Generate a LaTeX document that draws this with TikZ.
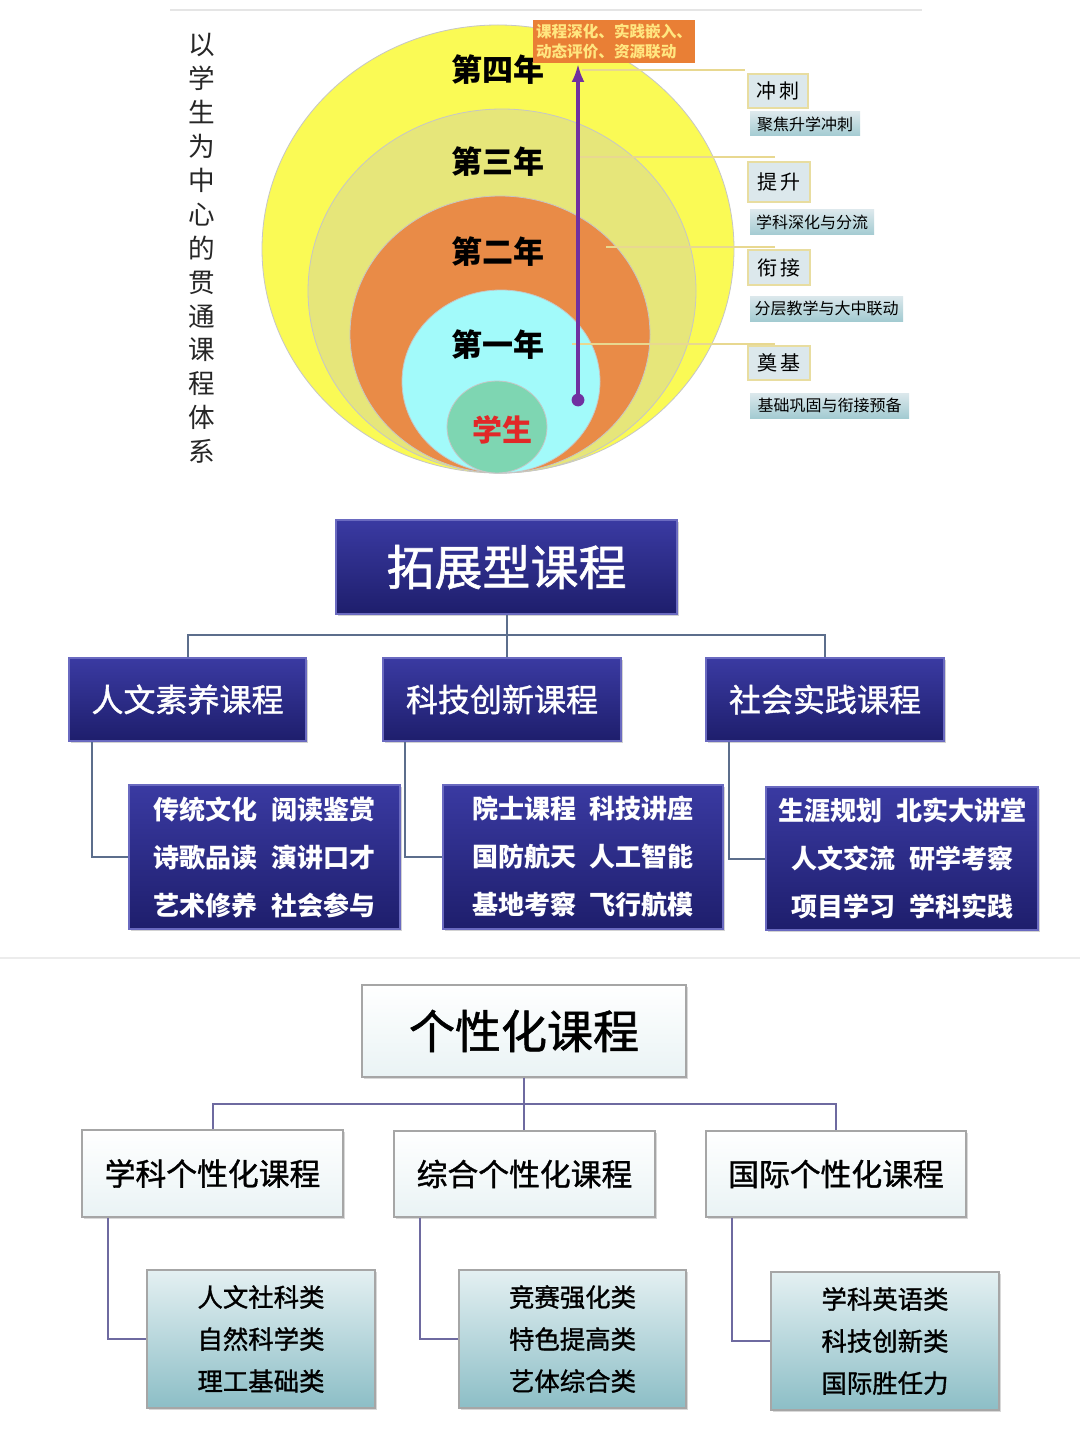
\documentclass[tikz,border=0pt]{standalone}
\usepackage{fontspec}
\setmainfont{Noto Sans CJK SC}
\newfontfamily\medf[FakeBold=1.2]{Noto Sans CJK SC}
\usetikzlibrary{shadows,arrows.meta}
\newcommand\pxu[1]{#1*0.5pt}
\definecolor{yelA}{HTML}{FAFA55}
\definecolor{khaki}{HTML}{E6E67A}
\definecolor{orgA}{HTML}{E98B47}
\definecolor{cyanA}{HTML}{A2FAFA}
\definecolor{grnA}{HTML}{7ED6B2}
\definecolor{purA}{HTML}{7030A0}
\definecolor{boxO}{HTML}{E97F35}
\definecolor{txtO}{HTML}{FFE680}
\definecolor{navyT}{HTML}{3A3AA2}
\definecolor{navyB}{HTML}{1E1E6C}
\definecolor{navyE}{HTML}{6A6AC0}
\definecolor{lineM}{HTML}{5C6E8C}
\definecolor{lineB}{HTML}{6E6AA0}
\definecolor{tealT}{HTML}{E4F0F2}
\definecolor{tealB}{HTML}{8CBEC6}
\definecolor{labF}{HTML}{DCE8EC}
\definecolor{labE}{HTML}{E8DDA0}
\definecolor{thinL}{HTML}{E8D890}
\tikzset{
  navybox/.style={shade, top color=navyT, bottom color=navyB, draw=navyE, line width=1.2pt,
    text=white, drop shadow={shadow xshift=1.2pt, shadow yshift=-1.2pt, opacity=0.35}},
  lightbox/.style={shade, top color=white, bottom color=tealT!80, draw=gray!70, line width=0.6pt,
    text=black, drop shadow={shadow xshift=1.2pt, shadow yshift=-1.2pt, opacity=0.3}},
  tealbox/.style={shade, top color=tealT, bottom color=tealB, draw=gray!70, line width=0.6pt,
    text=black, drop shadow={shadow xshift=1.2pt, shadow yshift=-1.2pt, opacity=0.3}},
  labbox/.style={fill=labF, draw=labE, line width=0.8pt, inner sep=0pt},
  subbox/.style={shade, top color=labF, bottom color=tealB!80, inner sep=0pt},
  midline/.style={draw=lineM, line width=1pt},
  botline/.style={draw=lineB, line width=1pt},
  ell/.style={draw=gray!45, line width=0.4pt},
}
\begin{document}
\begin{tikzpicture}[x=0.5pt,y=-0.5pt]
\useasboundingbox (0,0) rectangle (1080,1439);
\fill[white] (0,0) rectangle (1080,1439);

% ---------- top section ----------
\draw[gray!20, line width=0.6pt] (170,10) -- (922,10);
\node[text=black!85, align=center, font=\fontsize{13.3}{16.95}\selectfont] (vt) at (202,248.5)
  {以\\学\\生\\为\\中\\心\\的\\贯\\通\\课\\程\\体\\系};

\draw[ell, fill=yelA] (498,249) ellipse [x radius=236, y radius=224];
\draw[ell, fill=khaki] (502,291) ellipse [x radius=194, y radius=182];
\draw[ell, fill=orgA] (500,334.5) ellipse [x radius=150, y radius=138.5];
\draw[ell, fill=cyanA] (501,381.5) ellipse [x radius=99, y radius=91.5];
\draw[ell, fill=grnA] (497,427) ellipse [x radius=50, y radius=46];

\node[font=\fontsize{15.5}{18}\selectfont\bfseries] (y4) at (498,70) {第四年};
\node[font=\fontsize{15.5}{18}\selectfont\bfseries] (y3) at (498,162) {第三年};
\node[font=\fontsize{15.5}{18}\selectfont\bfseries] (y2) at (498,252) {第二年};
\node[font=\fontsize{15.5}{18}\selectfont\bfseries] (y1) at (498,345) {第一年};
\node[font=\fontsize{15}{18}\selectfont\bfseries, text={rgb,255:red,225;green,40;blue,40}] (stu) at (502,430) {学生};

% thin guide lines
\coordinate (g4a) at (582,70);  \coordinate (g4b) at (745,70);
\coordinate (g3a) at (578,157); \coordinate (g3b) at (775,157);
\coordinate (g2a) at (606,247); \coordinate (g2b) at (775,247);
\coordinate (g1a) at (572,344); \coordinate (g1b) at (775,344);
\draw[thinL, line width=0.6pt] (g4a) -- (g4b);
\draw[thinL, line width=0.6pt] (g3a) -- (g3b);
\draw[thinL, line width=0.6pt] (g2a) -- (g2b);
\draw[thinL, line width=0.6pt] (g1a) -- (g1b);

% orange box
\node[fill=boxO, minimum width=\pxu{162}, minimum height=\pxu{43}, inner sep=1pt, text=txtO,
  align=left, font=\fontsize{7.8}{10}\selectfont\bfseries] (ob) at (614,41.5)
  {课程深化、实践嵌入、\\动态评价、资源联动};

% arrow
\coordinate (arS) at (578,400);
\coordinate (arE) at (578,64);
\draw[purA, line width=1.6pt, -{Latex[length=9pt,width=6.5pt]}] (arS) -- (arE);
\fill[purA] (arS) circle [radius=3.2pt];

% right labels
\node[labbox, minimum width=\pxu{60}, minimum height=\pxu{34}, font=\fontsize{10}{12}\selectfont] (k1) at (778,91) {冲\,刺};
\node[subbox, minimum width=\pxu{110}, minimum height=\pxu{24}, font=\fontsize{8}{10}\selectfont] (s1) at (805,124) {聚焦升学冲刺};
\node[labbox, minimum width=\pxu{62}, minimum height=\pxu{40}, font=\fontsize{10}{12}\selectfont] (k2) at (779,182) {提\,升};
\node[subbox, minimum width=\pxu{124}, minimum height=\pxu{25}, font=\fontsize{8}{10}\selectfont] (s2) at (812,222.5) {学科深化与分流};
\node[labbox, minimum width=\pxu{62}, minimum height=\pxu{35}, font=\fontsize{10}{12}\selectfont] (k3) at (779,267.5) {衔\,接};
\node[subbox, minimum width=\pxu{153}, minimum height=\pxu{25}, font=\fontsize{8}{10}\selectfont] (s3) at (826.5,308.5) {分层教学与大中联动};
\node[labbox, minimum width=\pxu{62}, minimum height=\pxu{34}, font=\fontsize{10}{12}\selectfont] (k4) at (779,363) {奠\,基};
\node[subbox, minimum width=\pxu{159}, minimum height=\pxu{25}, font=\fontsize{8}{10}\selectfont] (s4) at (829.5,405.5) {基础巩固与衔接预备};

% ---------- middle section ----------
\node[navybox, minimum width=\pxu{341}, minimum height=\pxu{94}, font=\fontsize{24}{28}\selectfont\medf] (t1) at (506.5,567) {拓展型课程};
\node[navybox, minimum width=\pxu{237}, minimum height=\pxu{83}, font=\fontsize{16}{20}\selectfont\medf] (c1) at (187.5,699.5) {人文素养课程};
\node[navybox, minimum width=\pxu{238}, minimum height=\pxu{83}, font=\fontsize{16}{20}\selectfont\medf] (c2) at (502,699.5) {科技创新课程};
\node[navybox, minimum width=\pxu{238}, minimum height=\pxu{83}, font=\fontsize{16}{20}\selectfont\medf] (c3) at (825,699.5) {社会实践课程};

\node[navybox, minimum width=\pxu{271}, minimum height=\pxu{144}, align=center, font=\fontsize{13}{24}\selectfont\bfseries] (l1) at (264.5,857)
  {传统文化\hspace{7pt}阅读鉴赏\\诗歌品读\hspace{7pt}演讲口才\\艺术修养\hspace{7pt}社会参与};
\node[navybox, minimum width=\pxu{280}, minimum height=\pxu{144}, align=center, font=\fontsize{13}{24}\selectfont\bfseries] (l2) at (583,857)
  {院士课程\hspace{7pt}科技讲座\\国防航天\hspace{7pt}人工智能\\基地考察\hspace{7pt}飞行航模};
\node[navybox, minimum width=\pxu{272}, minimum height=\pxu{143}, inner sep=1pt, align=center, font=\fontsize{13}{24}\selectfont\bfseries] (l3) at (902,858.5)
  {生涯规划\hspace{7pt}北实大讲堂\\人文交流\hspace{7pt}研学考察\\项目学习\hspace{7pt}学科实践};

\coordinate (j1) at (506.5,635);
\draw[midline] (t1.south) -- (j1);
\draw[midline] (c1.north) |- (j1) -| (c3.north);
\draw[midline] (j1) -- (j1 |- c2.north);
\draw[midline] ([xshift=\pxu{24}]c1.south west) |- (l1.west);
\draw[midline] ([xshift=\pxu{23}]c2.south west) |- (l2.west);
\draw[midline] ([xshift=\pxu{24}]c3.south west) |- (l3.west);

% separator
\draw[gray!15, line width=0.8pt] (0,958) -- (1080,958);

% ---------- bottom section ----------
\node[lightbox, minimum width=\pxu{324}, minimum height=\pxu{92}, font=\fontsize{23}{28}\selectfont\medf] (t2) at (524,1031) {个性化课程};
\node[lightbox, minimum width=\pxu{261}, minimum height=\pxu{87}, font=\fontsize{15.4}{20}\selectfont\medf] (d1) at (212.5,1173.5) {学科个性化课程};
\node[lightbox, minimum width=\pxu{261}, minimum height=\pxu{86}, font=\fontsize{15.4}{20}\selectfont\medf] (d2) at (524.5,1174) {综合个性化课程};
\node[lightbox, minimum width=\pxu{260}, minimum height=\pxu{86}, font=\fontsize{15.4}{20}\selectfont\medf] (d3) at (836,1174) {国际个性化课程};

\node[tealbox, minimum width=\pxu{228}, minimum height=\pxu{138}, align=center, font=\fontsize{12.7}{21}\selectfont\medf] (m1) at (261,1339)
  {人文社科类\\自然科学类\\理工基础类};
\node[tealbox, minimum width=\pxu{227}, minimum height=\pxu{138}, align=center, font=\fontsize{12.7}{21}\selectfont\medf] (m2) at (572.5,1339)
  {竞赛强化类\\特色提高类\\艺体综合类};
\node[tealbox, minimum width=\pxu{228}, minimum height=\pxu{138}, align=center, font=\fontsize{12.7}{21}\selectfont\medf] (m3) at (885,1341)
  {学科英语类\\科技创新类\\国际胜任力};

\coordinate (j2) at (524,1104);
\draw[botline] (t2.south) -- (j2);
\draw[botline] (d1.north) |- (j2) -| (d3.north);
\draw[botline] (j2) -- (j2 |- d2.north);
\draw[botline] ([xshift=\pxu{27}]d1.south west) |- (m1.west);
\draw[botline] ([xshift=\pxu{27}]d2.south west) |- (m2.west);
\draw[botline] ([xshift=\pxu{27}]d3.south west) |- (m3.west);
\end{tikzpicture}
\end{document}
